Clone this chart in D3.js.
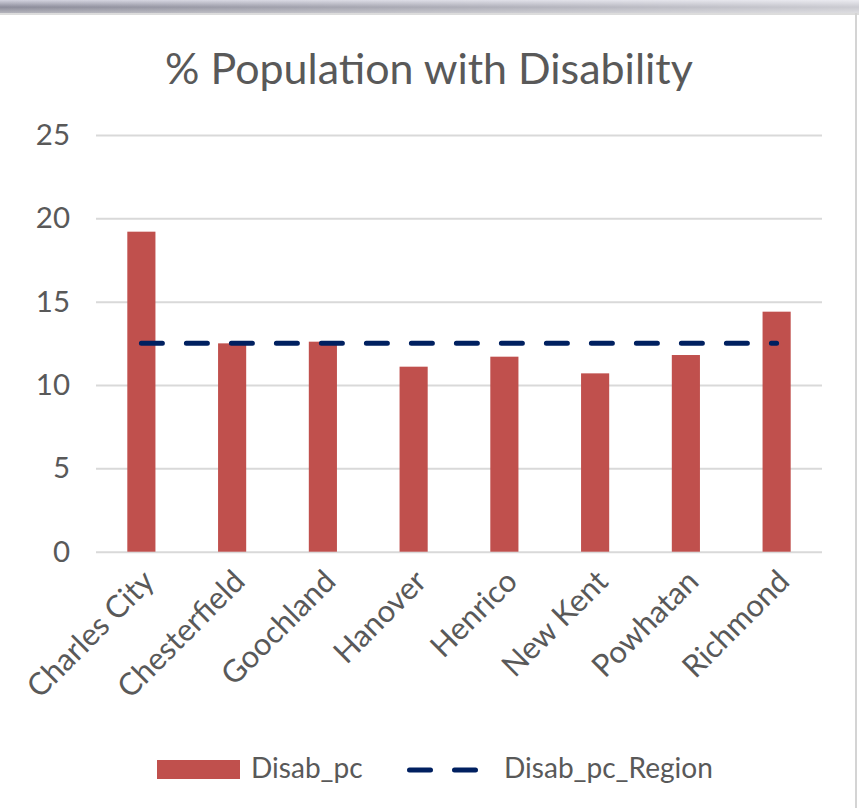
<html>
<head>
<meta charset="utf-8" />
<script src="https://cdn.jsdelivr.net/npm/d3@7"></script>
<style>
body { margin: 0; background: #fff; }
text { font-family: Lato, "Open Sans", sans-serif; fill: #595959; }
</style>
</head>
<body>
<svg id="chart" width="859" height="808"></svg>
<script>

// data
var counties = ["Charles City", "Chesterfield", "Goochland", "Hanover", "Henrico", "New Kent", "Powhatan", "Richmond"];
var disabPc = [19.2, 12.5, 12.6, 11.1, 11.7, 10.7, 11.8, 14.4];
var disabPcRegion = [12.5, 12.5, 12.5, 12.5, 12.5, 12.5, 12.5, 12.5];
var yTicks = [0, 5, 10, 15, 20, 25];
var seriesNames = ["Disab_pc", "Disab_pc_Region"];
var title = "% Population with Disability";

var barColor = "#C0504D";
var lineColor = "#002060";

var svg = d3.select("#chart");
var W = 859, H = 808;
var plot = {left: 96, right: 822, top: 135, bottom: 551.7};

// font size that makes a string take a given width
function fitSize(str, target) {
	let t = svg.append("text").style("font-size", "100px").text(str);
	let len = t.node().getComputedTextLength();
	t.remove();
	return 100 * target / len;
}

// frame: top shadow band and light borders
var defs = svg.append("defs");
var gv = defs.append("linearGradient").attr("id", "bandV").attr("x1", 0).attr("y1", 0).attr("x2", 0).attr("y2", 1);
gv.append("stop").attr("offset", "0%").attr("stop-color", "#d2d2de");
gv.append("stop").attr("offset", "55%").attr("stop-color", "#8c8c9a");
gv.append("stop").attr("offset", "100%").attr("stop-color", "#b4b4bc");
var gh = defs.append("linearGradient").attr("id", "bandH");
gh.append("stop").attr("offset", "0%").attr("stop-color", "#fff").attr("stop-opacity", 0);
gh.append("stop").attr("offset", "100%").attr("stop-color", "#fff").attr("stop-opacity", 0.55);

svg.append("rect").attr("width", W).attr("height", H).attr("fill", "#fff");
svg.append("rect").attr("x", 0).attr("y", 0).attr("width", W).attr("height", 13).attr("fill", "url(#bandV)");
svg.append("rect").attr("x", 0).attr("y", 0).attr("width", W).attr("height", 13).attr("fill", "url(#bandH)");
svg.append("rect").attr("x", 0).attr("y", 13).attr("width", W).attr("height", 2).attr("fill", "#dcdcdc");
svg.append("rect").attr("x", 855).attr("y", 13).attr("width", 2).attr("height", H - 13).attr("fill", "#d4d4d4");

// scales
var x = d3.scaleBand()
	.domain(counties)
	.range([plot.left, plot.right])
	.paddingInner(0.69)
	.paddingOuter(0.345);

var y = d3.scaleLinear()
	.domain([0, 25])
	.range([plot.bottom, plot.top]);

var labelSize = fitSize("Disab_pc_Region", 209);

// gridlines + y labels
var yAxis = svg.append("g")
	.attr("transform", "translate(" + plot.left + ",0)")
	.call(d3.axisLeft(y).tickValues(yTicks).tickSize(-(plot.right - plot.left)).tickPadding(26));
yAxis.select(".domain").remove();
yAxis.selectAll(".tick line").attr("stroke", "#d9d9d9").attr("stroke-width", 2);
yAxis.selectAll(".tick text")
	.style("font-size", (labelSize * 1.05) + "px")
	.style("font-family", "Lato, 'Open Sans', sans-serif")
	.attr("fill", "#595959");

// bars
svg.append("g").selectAll("rect")
	.data(disabPc)
	.join("rect")
	.attr("x", (d, i) => x(counties[i]))
	.attr("y", d => y(d))
	.attr("width", x.bandwidth())
	.attr("height", d => y(0) - y(d))
	.attr("fill", barColor);

// region line
var line = d3.line()
	.x((d, i) => x(counties[i]) + x.bandwidth() / 2)
	.y(d => y(d));

svg.append("path")
	.datum(disabPcRegion)
	.attr("d", line)
	.attr("fill", "none")
	.attr("stroke", lineColor)
	.attr("stroke-width", 5)
	.attr("stroke-linecap", "round")
	.attr("stroke-dasharray", "21 24");

// x labels, rotated
var xAxis = svg.append("g")
	.attr("transform", "translate(0," + plot.bottom + ")")
	.call(d3.axisBottom(x).tickSize(0).tickPadding(0));
xAxis.select(".domain").remove();
xAxis.selectAll(".tick text")
	.style("font-size", (labelSize * 1.1) + "px")
	.style("font-family", "Lato, 'Open Sans', sans-serif")
	.attr("fill", "#595959")
	.attr("text-anchor", "end")
	.attr("dy", "0.35em")
	.attr("y", 0)
	.attr("transform", "translate(7,24) rotate(-45)");

// title
svg.append("text")
	.attr("x", 429)
	.attr("y", 84)
	.attr("text-anchor", "middle")
	.style("font-size", fitSize(title, 528) + "px")
	.text(title);

// legend
var legend = svg.append("g");
legend.append("rect")
	.attr("x", 157).attr("y", 760)
	.attr("width", 83).attr("height", 19)
	.attr("fill", barColor);
legend.append("text")
	.attr("x", 251).attr("y", 778)
	.style("font-size", labelSize + "px")
	.text(seriesNames[0]);
legend.append("line")
	.attr("x1", 409.5).attr("x2", 475.5)
	.attr("y1", 770).attr("y2", 770)
	.attr("stroke", lineColor)
	.attr("stroke-width", 5)
	.attr("stroke-linecap", "round")
	.attr("stroke-dasharray", "21 24");
legend.append("text")
	.attr("x", 504).attr("y", 778)
	.style("font-size", labelSize + "px")
	.text(seriesNames[1]);

</script>
</body>
</html>
